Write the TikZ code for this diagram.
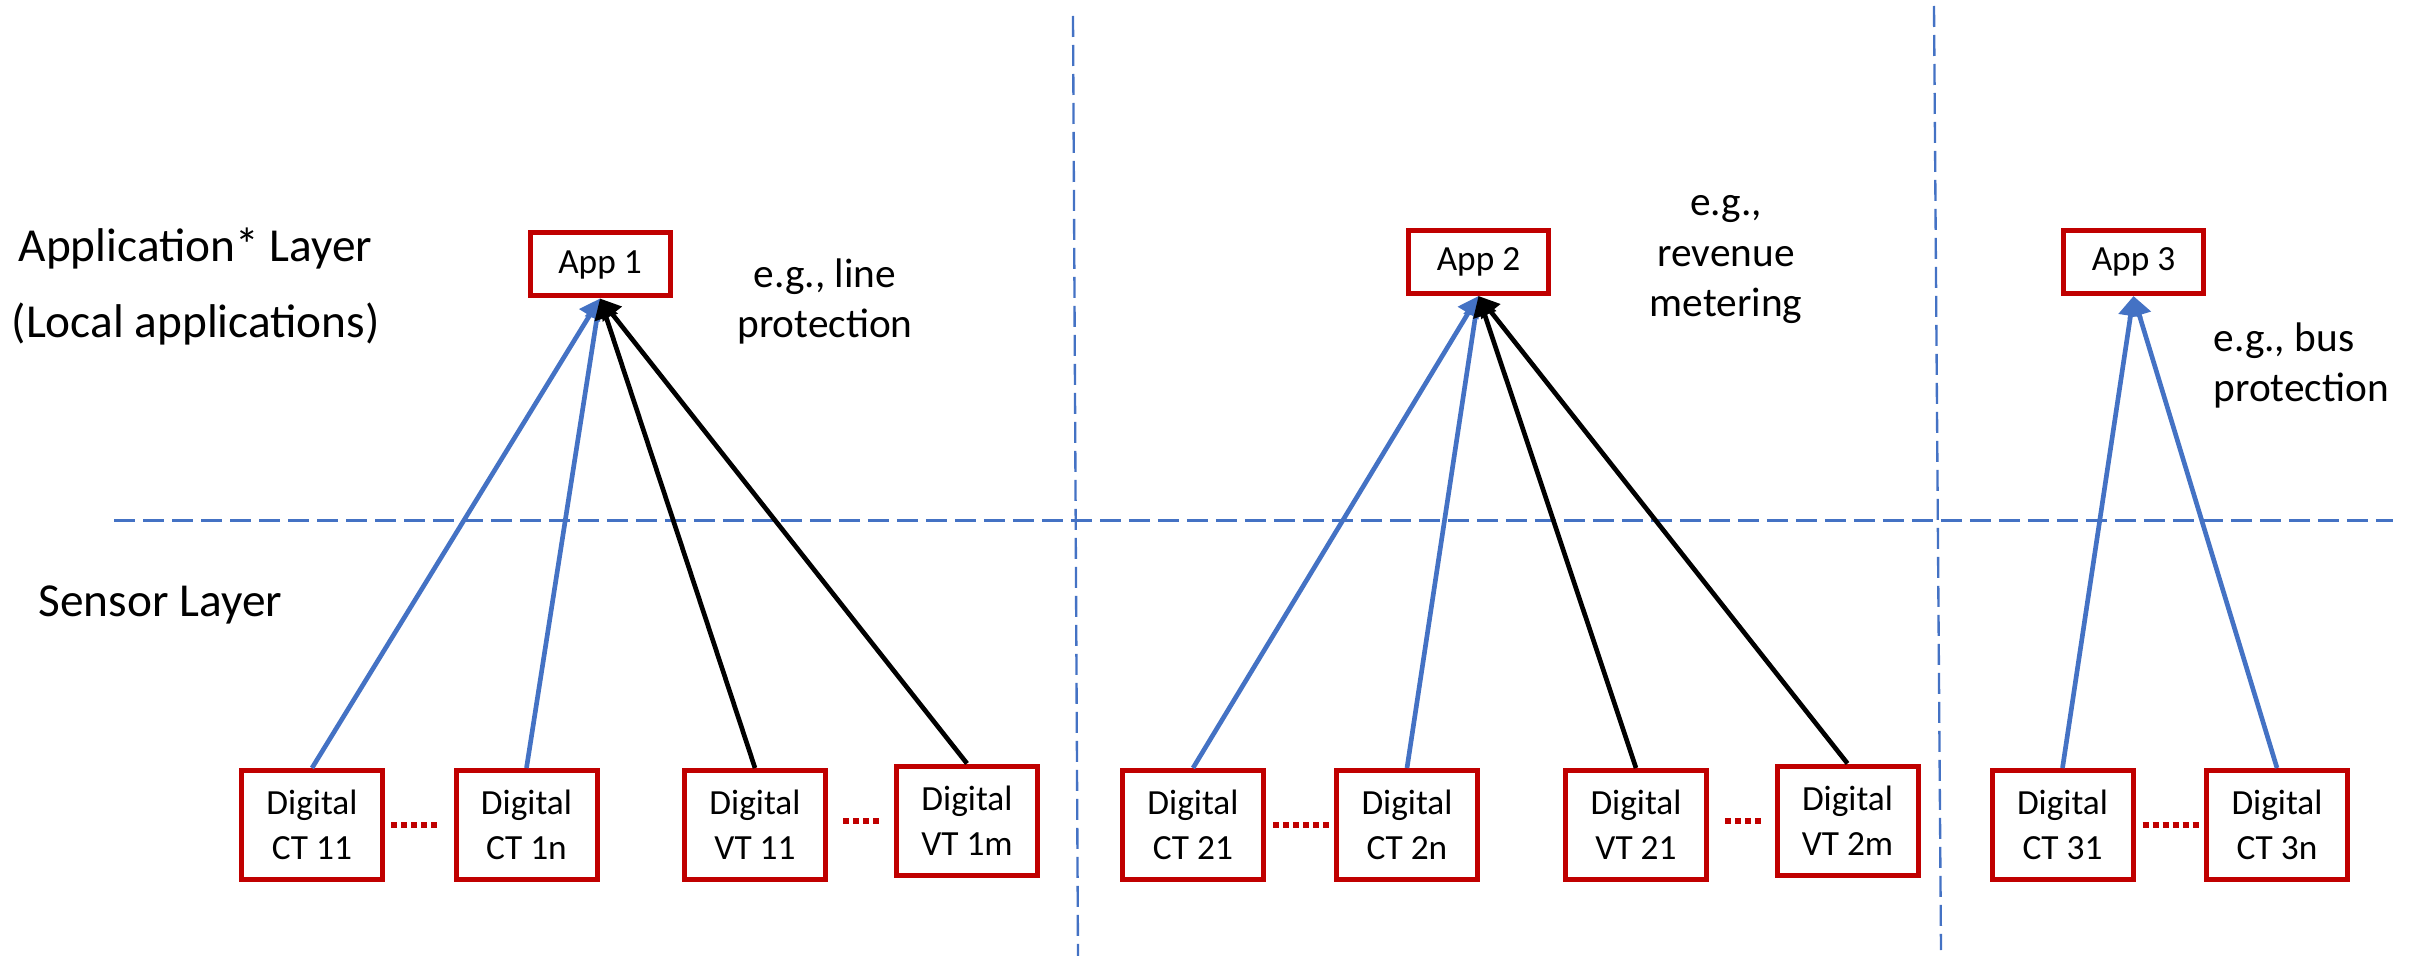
\documentclass[tikz,border=0pt]{standalone}
\usepackage{fontspec}
\setmainfont{Carlito}
\usetikzlibrary{arrows.meta}
\definecolor{boxred}{RGB}{192,0,0}
\definecolor{linkblue}{RGB}{68,114,196}
\begin{document}
\begin{tikzpicture}[x=0.3pt,y=-0.3pt,
  boxfont/.style={font=\fontsize{10.6pt}{13.4pt}\selectfont},
  sensorbox/.style={boxfont, draw=boxred, line width=1.5pt, fill=white,
    minimum width=42.3pt, minimum height=32.7pt, inner sep=0pt, align=center},
  appbox/.style={boxfont, draw=boxred, line width=1.5pt, fill=white,
    minimum width=42pt, minimum height=18.9pt, inner sep=0pt},
  layerlabel/.style={font=\fontsize{14.2pt}{17.3pt}\selectfont, inner sep=0pt, anchor=base west},
  note/.style={font=\fontsize{12.4pt}{15.2pt}\selectfont, inner sep=0pt},
  feed/.style={line width=1.4pt, -{Triangle[length=6pt,width=7pt]}},
  ctfeed/.style={feed, draw=linkblue},
  vtfeed/.style={feed, draw=black},
  divider/.style={draw=linkblue, dash pattern=on 6.3pt off 2.4pt},
  gapdots/.style={draw=boxred, line width=1.8pt, dash pattern=on 1.8pt off 1.2pt},
]
\useasboundingbox (0,0) rectangle (2418,956);

% layer separators
\draw[divider, line width=0.9pt] (114,520) -- (2393,520);
\draw[divider, line width=0.7pt] (1073,16) -- (1078,956);
\draw[divider, line width=0.7pt] (1934,6) -- (1941,950);

% layer names
\node[layerlabel] (applayer) at (18,262) {Application* Layer};
\node[layerlabel] (applocal) at (11,337) {(Local applications)};
\node[layerlabel] (sensorlayer) at (38,616) {Sensor Layer};

% applications
\node[appbox] (app1) at (600,264.5) {App 1};
\node[appbox] (app2) at (1478.5,262) {App 2};
\node[appbox] (app3) at (2133.5,262) {App 3};

% examples (base anchor sits on the last line)
\node[note, anchor=base, align=center] (ex1) at (825,338) {e.g., line\\protection};
\node[note, anchor=base, align=center] (ex2) at (1726,317) {e.g.,\\revenue\\metering};
\node[note, anchor=base west, align=left] (ex3) at (2213,402) {e.g., bus\\protection};

% digital sensors
\node[sensorbox] (ct11) at (312,825)    {Digital\\CT 11};
\node[sensorbox] (ct1n) at (526.5,825)  {Digital\\CT 1n};
\node[sensorbox] (vt11) at (755,825)    {Digital\\VT 11};
\node[sensorbox] (vt1m) at (967,820.5)  {Digital\\VT 1m};
\node[sensorbox] (ct21) at (1193,825)   {Digital\\CT 21};
\node[sensorbox] (ct2n) at (1407,825)   {Digital\\CT 2n};
\node[sensorbox] (vt21) at (1636,825)   {Digital\\VT 21};
\node[sensorbox] (vt2m) at (1847.5,820.5) {Digital\\VT 2m};
\node[sensorbox] (ct31) at (2062.5,825) {Digital\\CT 31};
\node[sensorbox] (ct3n) at (2277,825)   {Digital\\CT 3n};

% elided sensors
\draw[gapdots, shorten <=1.8pt, shorten >=4.2pt] (ct11.east) -- (ct1n.west);
\draw[gapdots, shorten <=4.5pt, shorten >=4.2pt] (vt11.east |- vt1m) -- (vt1m.west);
\draw[gapdots, shorten <=2.1pt, shorten >=1.1pt] (ct21.east) -- (ct2n.west);
\draw[gapdots, shorten <=4.8pt, shorten >=4.2pt] (vt21.east |- vt2m) -- (vt2m.west);
\draw[gapdots, shorten <=2.1pt, shorten >=1.2pt] (ct31.east) -- (ct3n.west);

% current transformer streams
\draw[ctfeed] (ct11.north) -- (app1.south);
\draw[ctfeed] (ct1n.north) -- (app1.south);
\draw[ctfeed] (ct21.north) -- (app2.south);
\draw[ctfeed] (ct2n.north) -- (app2.south);
\draw[ctfeed] (ct31.north) -- (app3.south);
\draw[ctfeed] (ct3n.north) -- (app3.south);

% voltage transformer streams
\draw[vtfeed] (vt11.north) -- (app1.south);
\draw[vtfeed] (vt1m.north) -- (app1.south);
\draw[vtfeed] (vt21.north) -- (app2.south);
\draw[vtfeed] (vt2m.north) -- (app2.south);
\end{tikzpicture}
\end{document}
